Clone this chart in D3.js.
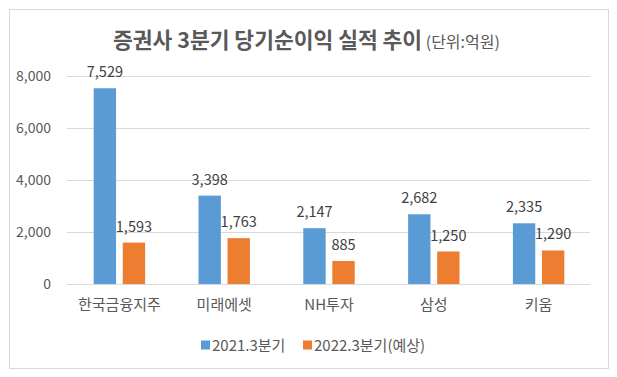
<!DOCTYPE html>
<html>
<head>
<meta charset="utf-8">
<script src="https://cdn.jsdelivr.net/npm/d3@7"></script>
<style>
  body { margin: 0; background: #fff; }
  text { font-family: "Noto Sans CJK KR", "Noto Sans", sans-serif; }
</style>
</head>
<body>
<div id="chart"></div>
<script>
// data
var companies = ["한국금융지주", "미래에셋", "NH투자", "삼성", "키움"];
var seriesNames = ["2021.3분기", "2022.3분기(예상)"];
var q3_2021 = [7529, 3398, 2147, 2682, 2335];
var q3_2022 = [1593, 1763, 885, 1250, 1290];
var yTicks = [0, 2000, 4000, 6000, 8000];
var colors = ["#5b9bd5", "#ed7d31"];

const W = 617, H = 377;
const margin = { top: 76, right: 27, bottom: 93, left: 67 },
  width = W - margin.left - margin.right,
  height = H - margin.top - margin.bottom;

const svg = d3.select("#chart").append("svg")
  .attr("width", W).attr("height", H);

// outer frame
svg.append("rect")
  .attr("x", 9.5).attr("y", 9.5)
  .attr("width", 599).attr("height", 359)
  .attr("fill", "#fff").attr("stroke", "#d9d9d9").attr("stroke-width", 1);

// title
const title = svg.append("text")
  .attr("x", 113).attr("y", 48)
  .attr("fill", "#595959");
title.append("tspan").text("증권사 3분기 당기순이익 실적 추이")
  .attr("font-size", "21.5px").attr("font-weight", "bold");
title.append("tspan").text(" (단위:억원)")
  .attr("font-size", "16px");

const g = svg.append("g")
  .attr("transform", `translate(${margin.left}, ${margin.top})`);

const y = d3.scaleLinear().domain([0, 8000]).range([height, 0]);
const x0 = d3.scaleBand().domain(companies).range([0, width + 1]).padding(0);
const x1 = d3.scaleBand().domain(seriesNames).range([-25.7, 25.7]).paddingInner(0.23);

// gridlines
g.selectAll(".grid")
  .data(yTicks)
  .enter()
  .append("line")
  .attr("class", "grid")
  .attr("x1", 0).attr("x2", width)
  .attr("y1", d => Math.round(y(d)) + 0.5)
  .attr("y2", d => Math.round(y(d)) + 0.5)
  .attr("stroke", "#d9d9d9");

// y axis labels
const yAxis = g.append("g")
  .attr("transform", "translate(-13,0)")
  .call(d3.axisLeft(y).tickValues(yTicks).tickFormat(d3.format(",")).tickSize(0));
yAxis.select(".domain").remove();
yAxis.selectAll("text")
  .attr("font-size", "14px")
  .attr("fill", "#595959")
  .attr("font-family", "\"Noto Sans CJK KR\", sans-serif");

// x axis labels
const xAxis = g.append("g")
  .attr("transform", `translate(0, ${height})`)
  .call(d3.axisBottom(x0).tickSize(0));
xAxis.select(".domain").remove();
xAxis.selectAll("text")
  .attr("dy", "1.2em")
  .attr("y", 8)
  .attr("font-size", "15px")
  .attr("fill", "#595959")
  .attr("font-family", "\"Noto Sans CJK KR\", sans-serif");

const rows = companies.map((c, i) => ({ name: c, values: [q3_2021[i], q3_2022[i]] }));

const groups = g.selectAll(".group")
  .data(rows)
  .enter()
  .append("g")
  .attr("class", "group")
  .attr("transform", d => `translate(${x0(d.name) + x0.bandwidth() / 2}, 0)`);

groups.selectAll("rect")
  .data(d => d.values.map((v, j) => ({ key: seriesNames[j], value: v, j: j })))
  .enter()
  .append("rect")
  .attr("x", d => x1(d.key))
  .attr("width", x1.bandwidth())
  .attr("y", d => y(d.value))
  .attr("height", d => height - y(d.value))
  .attr("fill", d => colors[d.j]);

groups.selectAll(".lbl")
  .data(d => d.values.map((v, j) => ({ key: seriesNames[j], value: v, j: j })))
  .enter()
  .append("text")
  .attr("class", "lbl")
  .attr("x", d => x1(d.key) + x1.bandwidth() / 2)
  .attr("y", d => y(d.value) - 11)
  .attr("text-anchor", "middle")
  .attr("font-size", "14.5px")
  .attr("fill", "#404040")
  .text(d => d3.format(",")(d.value));

// legend
const legendX = [201, 303];
const legend = svg.selectAll(".legend")
  .data(seriesNames)
  .enter()
  .append("g")
  .attr("class", "legend")
  .attr("transform", (d, i) => `translate(${legendX[i]}, 345)`);
legend.append("rect")
  .attr("x", 0).attr("y", -4.5)
  .attr("width", 9).attr("height", 9)
  .attr("fill", (d, i) => colors[i]);
legend.append("text")
  .attr("x", 11).attr("y", 5.5)
  .attr("font-size", "15px")
  .attr("fill", "#595959")
  .text(d => d);
</script>
</body>
</html>
